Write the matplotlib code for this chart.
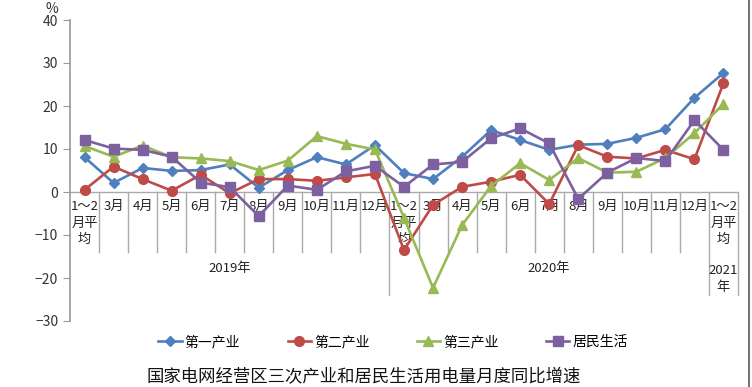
import matplotlib
matplotlib.use("Agg")
import matplotlib.pyplot as plt
from matplotlib.lines import Line2D

plt.rcParams['font.family'] = ['Noto Sans CJK SC', 'DejaVu Sans']

# categories (23 monthly points: 2019, 2020, 2021)
months = ["1～2\n月平\n均", "3月", "4月", "5月", "6月", "7月", "8月", "9月", "10月", "11月", "12月",
          "1～2\n月平\n均", "3月", "4月", "5月", "6月", "7月", "8月", "9月", "10月", "11月", "12月",
          "1～2\n月平\n均"]
years = ["2019年", "2020年", "2021\n年"]
year_spans = [(0, 10), (11, 21), (22, 22)]

primary = [8.1, 2.1, 5.6, 4.9, 5.1, 6.4, 1.0, 5.1, 8.1, 6.4, 10.9,
           4.4, 3.0, 8.2, 14.4, 12.1, 9.8, 11.0, 11.2, 12.6, 14.6, 21.9, 27.7]
secondary = [0.5, 5.9, 3.0, 0.3, 4.0, -0.3, 3.0, 3.0, 2.6, 3.4, 4.2,
             -13.5, -3.0, 1.2, 2.4, 4.0, -2.8, 10.9, 8.2, 7.8, 9.8, 7.6, 25.3]
tertiary = [10.7, 8.2, 10.8, 8.1, 7.8, 7.2, 5.1, 7.3, 13.0, 11.2, 9.9,
            -6.0, -22.3, -7.7, 1.4, 6.7, 2.8, 7.9, 4.5, 4.7, 7.9, 13.7, 20.5]
residential = [12.1, 10.1, 9.8, 8.2, 2.2, 1.1, -5.6, 1.5, 0.5, 4.8, 6.1,
               1.2, 6.4, 7.0, 12.5, 14.8, 11.3, -1.6, 4.5, 7.9, 7.2, 16.7, 9.8]

series = [
    ("第一产业", primary, "#4F7FBE", "D", 5),
    ("第二产业", secondary, "#BE4B48", "o", 7),
    ("第三产业", tertiary, "#98B954", "^", 7),
    ("居民生活", residential, "#7D60A0", "s", 7.5),
]

fig = plt.figure(figsize=(7.52, 3.87), dpi=100)
ax = fig.add_axes([70 / 752, 1 - 321 / 387, (738 - 70) / 752, 301 / 387])

x = list(range(len(months)))
for name, vals, color, mk, ms in series:
    ax.plot(x, vals, color=color, lw=1.9, marker=mk, ms=ms, label=name, zorder=3)

ax.set_xlim(-0.5, len(months) - 0.5)
ax.set_ylim(-30, 40)
ax.set_yticks(range(-30, 41, 10))
ax.tick_params(axis='y', labelsize=10, length=5, colors="#999999")
for lbl in ax.get_yticklabels():
    lbl.set_color("#333333")
ax.set_xticks([])

for s in ["top", "right", "bottom"]:
    ax.spines[s].set_visible(False)
ax.spines["left"].set_color("#999999")
ax.spines["left"].set_linewidth(1.2)

# category axis at zero with separators
sep_col = "#aaaaaa"
ax.plot([-0.5, len(months) - 0.5], [0, 0], color=sep_col, lw=1.0, zorder=1)
long_seps = [10.5, 21.5, 22.5]
for k in range(len(months)):
    b = k + 0.5
    bottom = -24 if b in long_seps else -14
    ax.plot([b, b], [0, bottom], color=sep_col, lw=1.0, zorder=1, clip_on=False)

for i, m in enumerate(months):
    ax.text(i, -1.9, m, ha='center', va='top', fontsize=9.5, color="#222222",
            linespacing=1.35, zorder=2)

for (a, b), yl in zip(year_spans, years):
    ax.text((a + b) / 2, -17.7 if "\n" not in yl else -20.3, yl, ha='center', va='center',
            fontsize=9.5, color="#222222", linespacing=1.4)

fig.text(45 / 752, 1 - 9 / 387, "%", fontsize=10, ha='left', va='center', color="#333333")

fig.legend(loc='center', bbox_to_anchor=(393 / 752, 1 - 342 / 387), ncol=4, frameon=False,
           fontsize=10, handlelength=1.7, columnspacing=3.4, handletextpad=0.2)

fig.text(364 / 752, 1 - 377 / 387, "国家电网经营区三次产业和居民生活用电量月度同比增速",
         ha='center', va='center', fontsize=12.5, color="#111111")

fig.add_artist(Line2D([749 / 752, 749 / 752], [0, 1], color="#777777", lw=1.5,
                      transform=fig.transFigure))

fig.savefig("out.png", dpi=100, facecolor="white")
